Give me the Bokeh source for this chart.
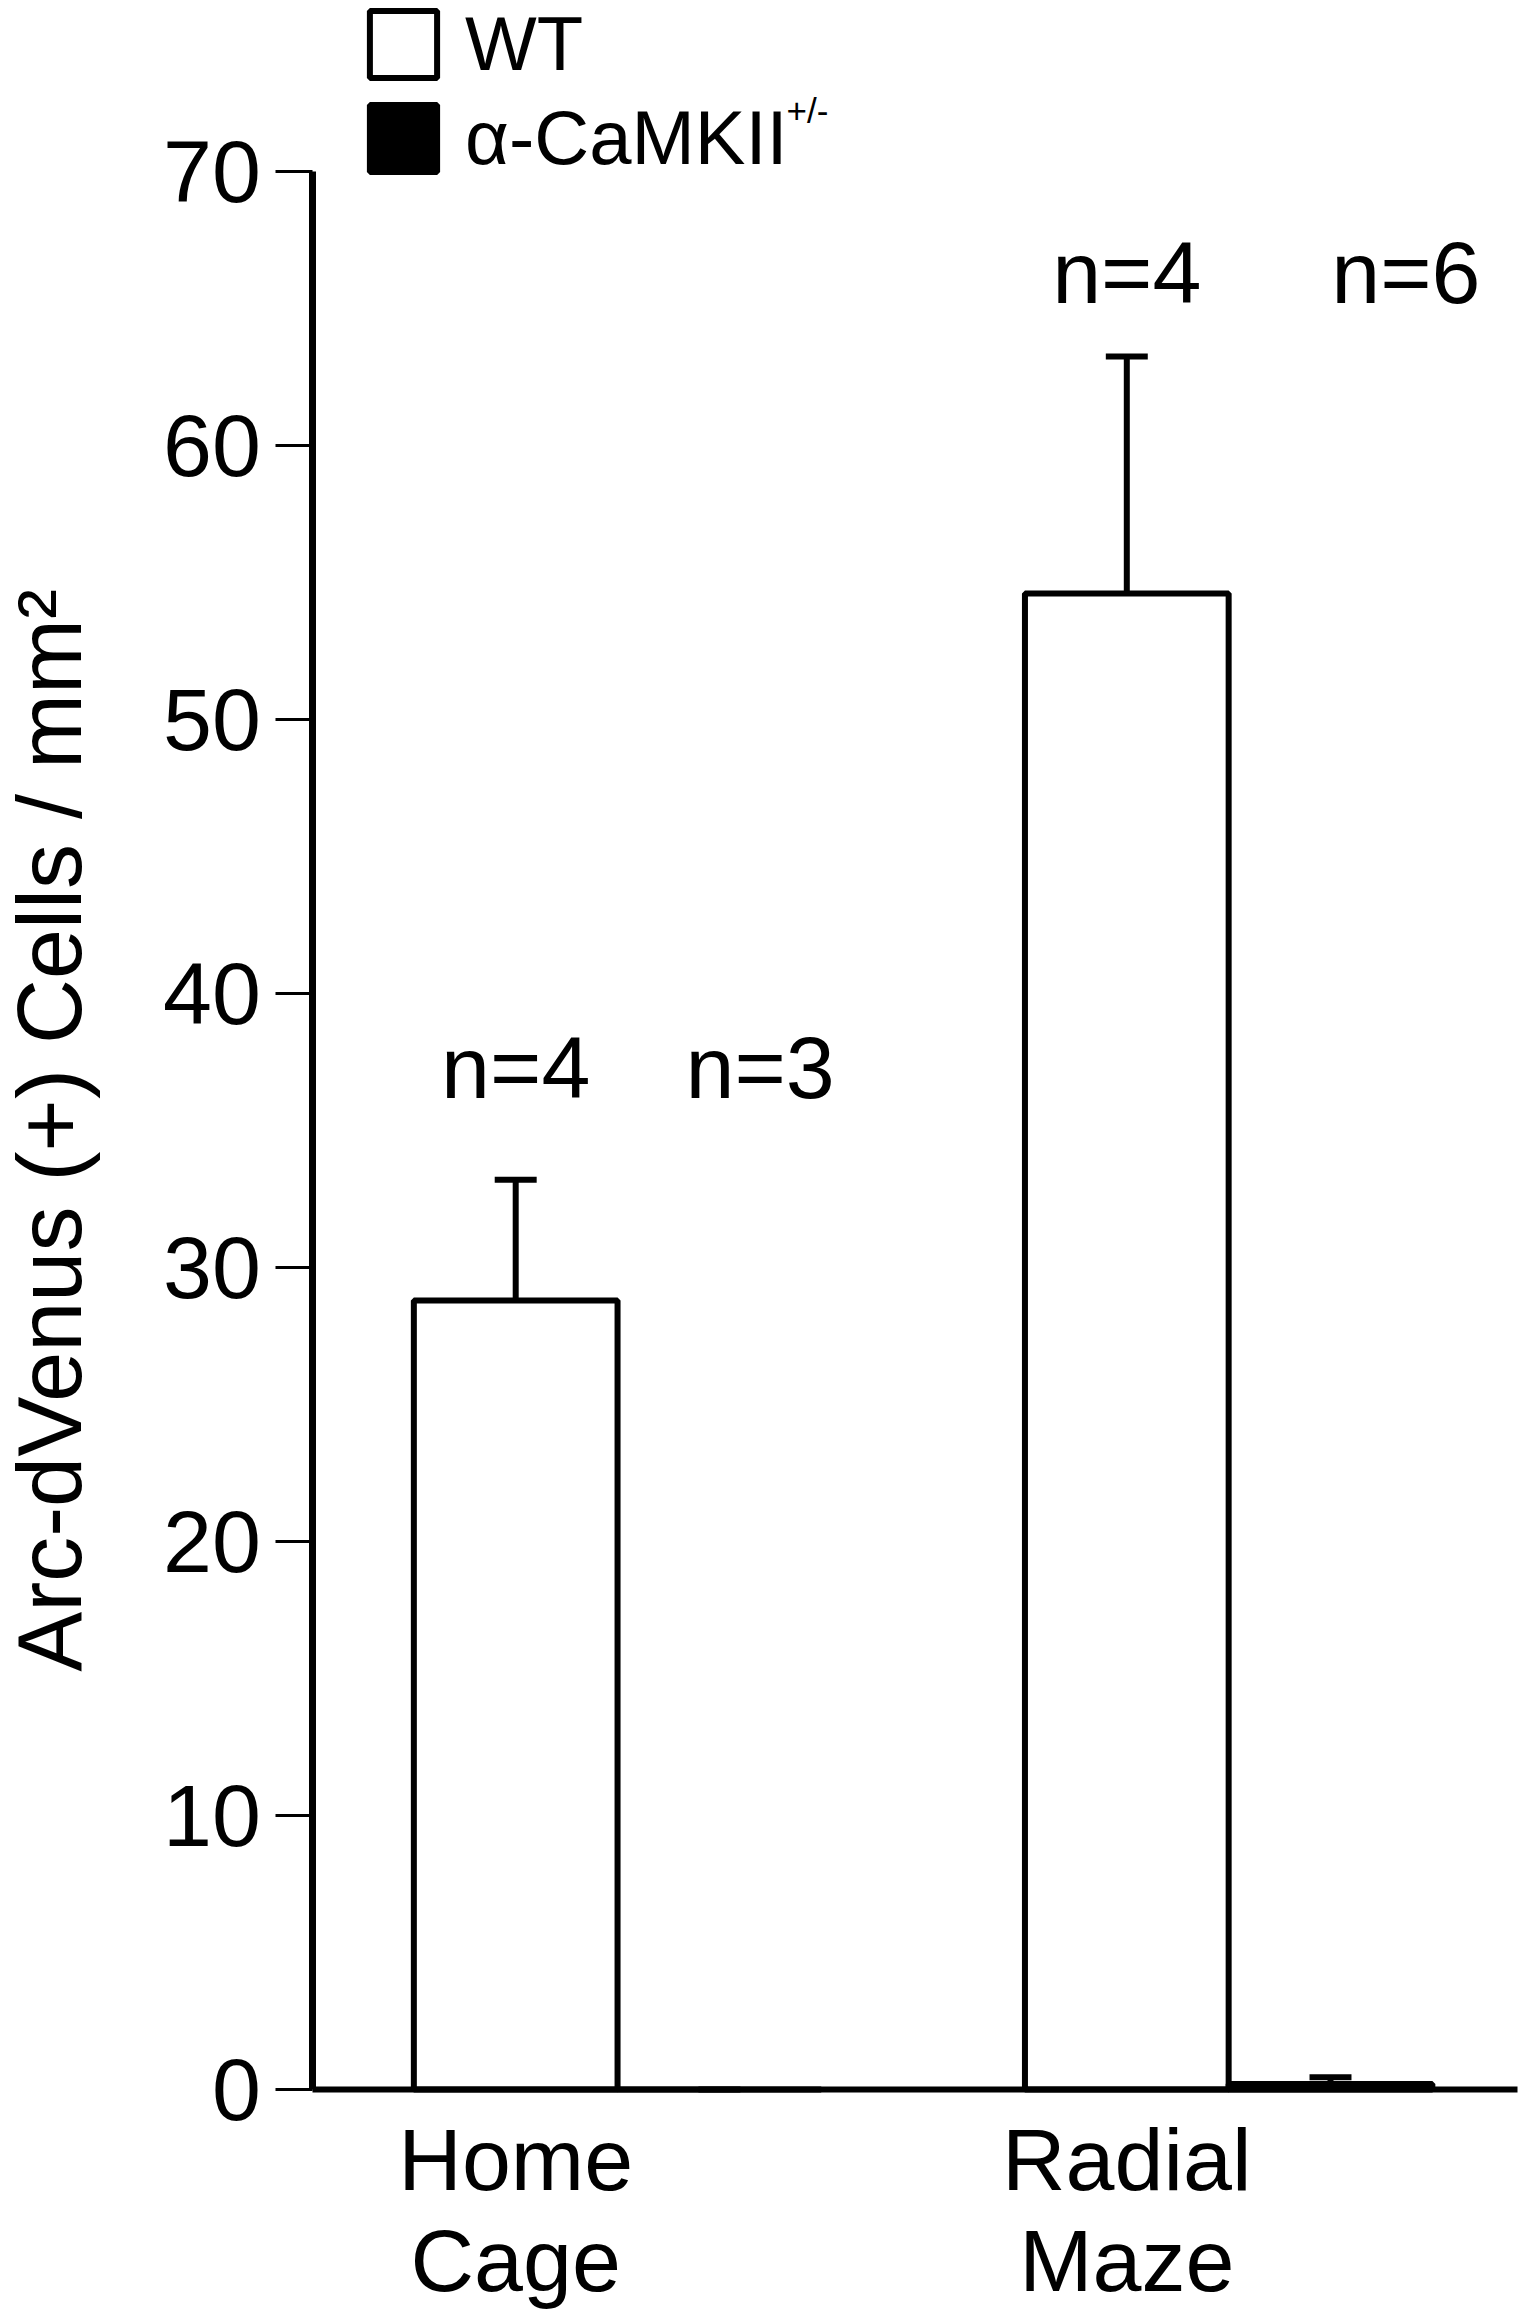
from bokeh.plotting import figure
from bokeh.models import (ColumnDataSource, Range1d, FixedTicker, Legend, LegendItem, Label)
from bokeh.core.properties import value
from bokeh.embed import file_html
from bokeh.resources import INLINE

# ---- data ----
groups = ["Home\nCage", "Radial\nMaze"]
wt_mean = [28.8, 54.6]
wt_sem = [4.4, 8.65]
mut_mean = [0.0, 0.2]
mut_sem = [0.0, 0.25]
n_wt = [4, 4]
n_mut = [3, 6]
y_ticks = [0, 10, 20, 30, 40, 50, 60, 70]
y_title = "Arc-dVenus (+) Cells / mm\u00b2"

# ---- layout constants (pixels of the figure canvas) ----
FONT = "Liberation Sans"
W, H = 1538, 2310
AXIS_X_PX = 311.5      # where x = 0 sits
UNIT_X_PX = 203.7      # one bar width
AXIS_Y_PX = 2089.0     # where y = 0 sits
TOP70_PX = 171.0       # where y = 70 sits
X_AXIS_END = 5.92
BAR_W = 1.0
CAP_HALF = 0.103
label_y = [37.3, 66.3]
mut_label_dx = [0.2, 0.37]

unit_y = (AXIS_Y_PX - TOP70_PX) / y_ticks[-1]
x_lo = -AXIS_X_PX / UNIT_X_PX
x_hi = (W - AXIS_X_PX) / UNIT_X_PX
y_lo = -(H - AXIS_Y_PX) / unit_y
y_hi = AXIS_Y_PX / unit_y

wt_x = [1 + 3 * i for i in range(len(groups))]
mut_x = [x + 1 for x in wt_x]

p = figure(width=W, height=H, x_range=Range1d(x_lo, x_hi), y_range=Range1d(y_lo, y_hi),
           output_backend="svg", toolbar_location=None, title=None, min_border=0)
p.xgrid.visible = False
p.ygrid.visible = False
p.outline_line_color = None
p.background_fill_color = "white"
p.border_fill_color = "white"

# y axis
ya = p.yaxis[0]
ya.fixed_location = 0
ya.bounds = (0, y_ticks[-1])
ya.ticker = FixedTicker(ticks=y_ticks)
ya.major_tick_out = 37
ya.major_tick_in = 0
ya.minor_tick_out = 0
ya.minor_tick_in = 0
ya.major_tick_line_width = 3
ya.major_tick_line_color = "black"
ya.axis_line_width = 7
ya.axis_line_color = "black"
ya.major_label_text_font = FONT
ya.major_label_text_font_size = "88px"
ya.major_label_text_color = "black"
ya.major_label_standoff = 14
ya.axis_label = y_title
ya.axis_label_text_font = FONT
ya.axis_label_text_font_size = "90px"
ya.axis_label_text_font_style = "normal"
ya.axis_label_text_color = "black"
ya.axis_label_standoff = 61

# x axis
xa = p.xaxis[0]
xa.fixed_location = 0
xa.bounds = (0, X_AXIS_END)
xa.ticker = FixedTicker(ticks=wt_x)
xa.major_label_overrides = {wt_x[i]: groups[i] for i in range(len(groups))}
xa.major_tick_out = 0
xa.major_tick_in = 0
xa.minor_tick_out = 0
xa.minor_tick_in = 0
xa.axis_line_width = 6
xa.axis_line_color = "black"
xa.major_label_text_font = FONT
xa.major_label_text_font_size = "88px"
xa.major_label_text_color = "black"
xa.major_label_text_line_height = 1.03
xa.major_label_standoff = 20

# bars
src_wt = ColumnDataSource(dict(x=wt_x, top=wt_mean, err=[m + s for m, s in zip(wt_mean, wt_sem)]))
src_mut = ColumnDataSource(dict(x=mut_x, top=mut_mean, err=[m + s for m, s in zip(mut_mean, mut_sem)]))

for src in (src_wt, src_mut):
    p.segment(x0="x", y0="top", x1="x", y1="err", source=src, line_color="black", line_width=6)
    p.segment(x0=[x - CAP_HALF for x in src.data["x"]], y0=src.data["err"],
              x1=[x + CAP_HALF for x in src.data["x"]], y1=src.data["err"],
              line_color="black", line_width=6)

r_wt = p.vbar(x="x", top="top", bottom=0, width=BAR_W, source=src_wt,
              fill_color="white", line_color="black", line_width=6)
r_mut = p.vbar(x="x", top="top", bottom=0, width=BAR_W, source=src_mut,
               fill_color="black", line_color="black", line_width=6)

# n labels
lab_x = wt_x + [mx + d for mx, d in zip(mut_x, mut_label_dx)]
lab_y = label_y + label_y
lab_t = ["n=%d" % n for n in n_wt] + ["n=%d" % n for n in n_mut]
p.text(x=lab_x, y=lab_y, text=lab_t, text_font=value(FONT), text_font_size=value("88px"),
       text_align="center", text_baseline="alphabetic", text_color="black")

# legend (top left)
legend = Legend(items=[LegendItem(label="WT", renderers=[r_wt]),
                       LegendItem(label="\u03b1-CaMKII", renderers=[r_mut])],
                location=(361, H - 181), glyph_width=84, glyph_height=84, label_height=84,
                label_text_font=FONT, label_text_font_size="76px", label_text_color="black",
                label_text_baseline="alphabetic",
                spacing=7, padding=0, margin=0, border_line_color=None,
                background_fill_alpha=0, label_standoff=20)
p.add_layout(legend)
p.add_layout(Label(x=786, y=H - 110, x_units="screen", y_units="screen", text="+/-",
                   text_font=FONT, text_font_size="35px", text_baseline="alphabetic",
                   text_color="black"))

open("out.html", "w").write(file_html(p, INLINE))
